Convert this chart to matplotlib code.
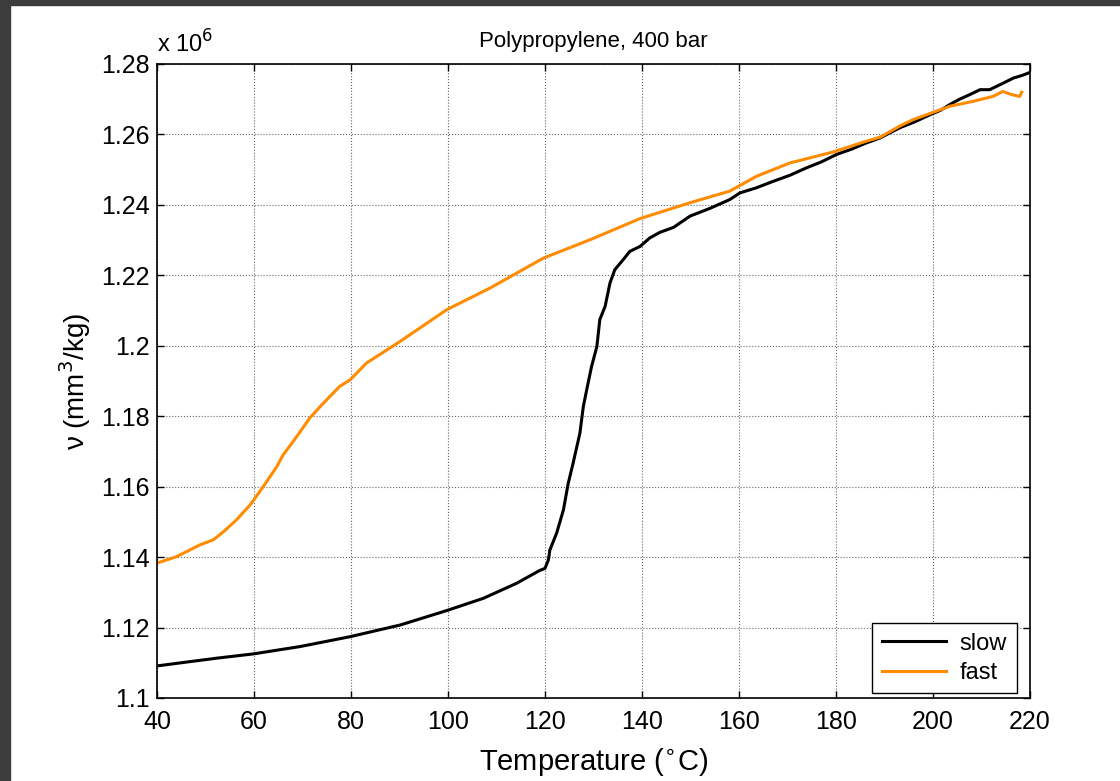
import numpy as np
import matplotlib
matplotlib.use('Agg')
import matplotlib.pyplot as plt
from matplotlib.patches import Rectangle
from matplotlib.ticker import FuncFormatter, MultipleLocator

plt.rcParams['font.family'] = ['Liberation Sans', 'DejaVu Sans']

# specific volume in units of 1e6 mm^3/kg
slow_T = [40, 45, 52.3, 59.8, 69.5, 79.8, 90.1, 99.7, 107.3, 114.2, 118.9, 120.0,
          120.7, 121.0, 122.4, 123.8, 124.8, 125.8, 127.2, 127.9, 128.6, 129.6,
          130.7, 131.3, 132.4, 133.4, 134.4, 136.1, 137.5, 139.6, 141.6, 143.7,
          146.5, 149.9, 154.0, 158.1, 160.2, 163.5, 167.1, 170.5, 173.9, 177.0,
          180.1, 183.2, 186.3, 189.1, 191.2, 193.2, 196.3, 199.4, 201.5, 203.5,
          205.5, 207.6, 209.7, 211.7, 213.8, 216.6, 218.5, 220]
slow_v = [1.1091, 1.1100, 1.1113, 1.1125, 1.1146, 1.1174, 1.1207, 1.1248, 1.1283,
          1.1326, 1.1362, 1.1368, 1.1392, 1.1420, 1.1468, 1.1534, 1.1610, 1.1667,
          1.1752, 1.1827, 1.1875, 1.1941, 1.1998, 1.2074, 1.2112, 1.2178, 1.2216,
          1.2244, 1.2268, 1.2282, 1.2306, 1.2322, 1.2336, 1.2368, 1.2390, 1.2415,
          1.2434, 1.2448, 1.2467, 1.2484, 1.2505, 1.2522, 1.2543, 1.2558, 1.2576,
          1.2590, 1.2605, 1.2619, 1.2636, 1.2656, 1.2668, 1.2685, 1.2700, 1.2713,
          1.2727, 1.2727, 1.2741, 1.2760, 1.2768, 1.2776]

fast_T = [40, 44, 48.9, 51.6, 53.7, 56.4, 59.2, 61.9, 64.7, 66.0, 68.8, 71.5, 74.3,
          77.7, 79.8, 83.2, 90.1, 99.7, 108.7, 119.7, 129.3, 139.6, 149.9, 158.1,
          163.6, 170.5, 179.4, 186.3, 189.1, 193.2, 195.9, 199.5, 203.5, 208.3,
          212.4, 214.4, 216.2, 217.9, 218.3]
fast_v = [1.1383, 1.1401, 1.1435, 1.1449, 1.1472, 1.1506, 1.1548, 1.1600, 1.1657,
          1.1690, 1.1742, 1.1795, 1.1837, 1.1885, 1.1903, 1.1951, 1.2012, 1.2102,
          1.2164, 1.2249, 1.2301, 1.2361, 1.2406, 1.2439, 1.2481, 1.2519, 1.2550,
          1.2581, 1.2592, 1.2624, 1.2642, 1.2660, 1.2680, 1.2694, 1.2708, 1.2722,
          1.2713, 1.2708, 1.2720]

fig = plt.figure(figsize=(11.2, 7.81), dpi=100)
ax = fig.add_axes([0.1402, 0.1063, 0.7794, 0.8118])

ax.plot(slow_T, slow_v, color='black', lw=2.2, label='slow')
ax.plot(fast_T, fast_v, color='#ff8c00', lw=2.2, label='fast')

ax.set_xlim(40, 220)
ax.set_ylim(1.1, 1.28)
ax.xaxis.set_major_locator(MultipleLocator(20))
ax.yaxis.set_major_locator(MultipleLocator(0.02))
ax.yaxis.set_major_formatter(FuncFormatter(lambda v, p: '%g' % round(v, 2)))
ax.tick_params(direction='in', top=True, right=True, length=5, width=1,
               labelsize=18, pad=5)
ax.tick_params(axis='x', pad=9)
ax.grid(True, color='#666666', ls=':', lw=0.8)
for s in ax.spines.values():
    s.set_linewidth(1.2)

ax.set_title('Polypropylene, 400 bar', fontsize=16, pad=12)
ax.set_xlabel(r'Temperature ($^{\circ}$C)', fontsize=21, labelpad=8)
ax.set_ylabel(r'ν (mm$^3$/kg)', fontsize=20, labelpad=6)
ax.text(0.0, 1.01, r'x 10$^6$', transform=ax.transAxes, fontsize=17,
        ha='left', va='bottom')

leg = ax.legend(loc='lower right', fontsize=17, fancybox=False, framealpha=1,
                edgecolor='black', handlelength=2.7, handletextpad=0.6,
                borderpad=0.4, labelspacing=0.3, borderaxespad=0.2,
                bbox_to_anchor=(0.99, 0.0))
leg.get_frame().set_linewidth(1.0)

# dark screenshot border
fig.patches.append(Rectangle((0, 1 - 5 / 781), 1, 5 / 781, transform=fig.transFigure,
                             color='#3c3c3c', zorder=-1))
fig.patches.append(Rectangle((0, 0), 10 / 1120, 1, transform=fig.transFigure,
                             color='#3c3c3c', zorder=-1))

fig.savefig('out.png', dpi=100)
